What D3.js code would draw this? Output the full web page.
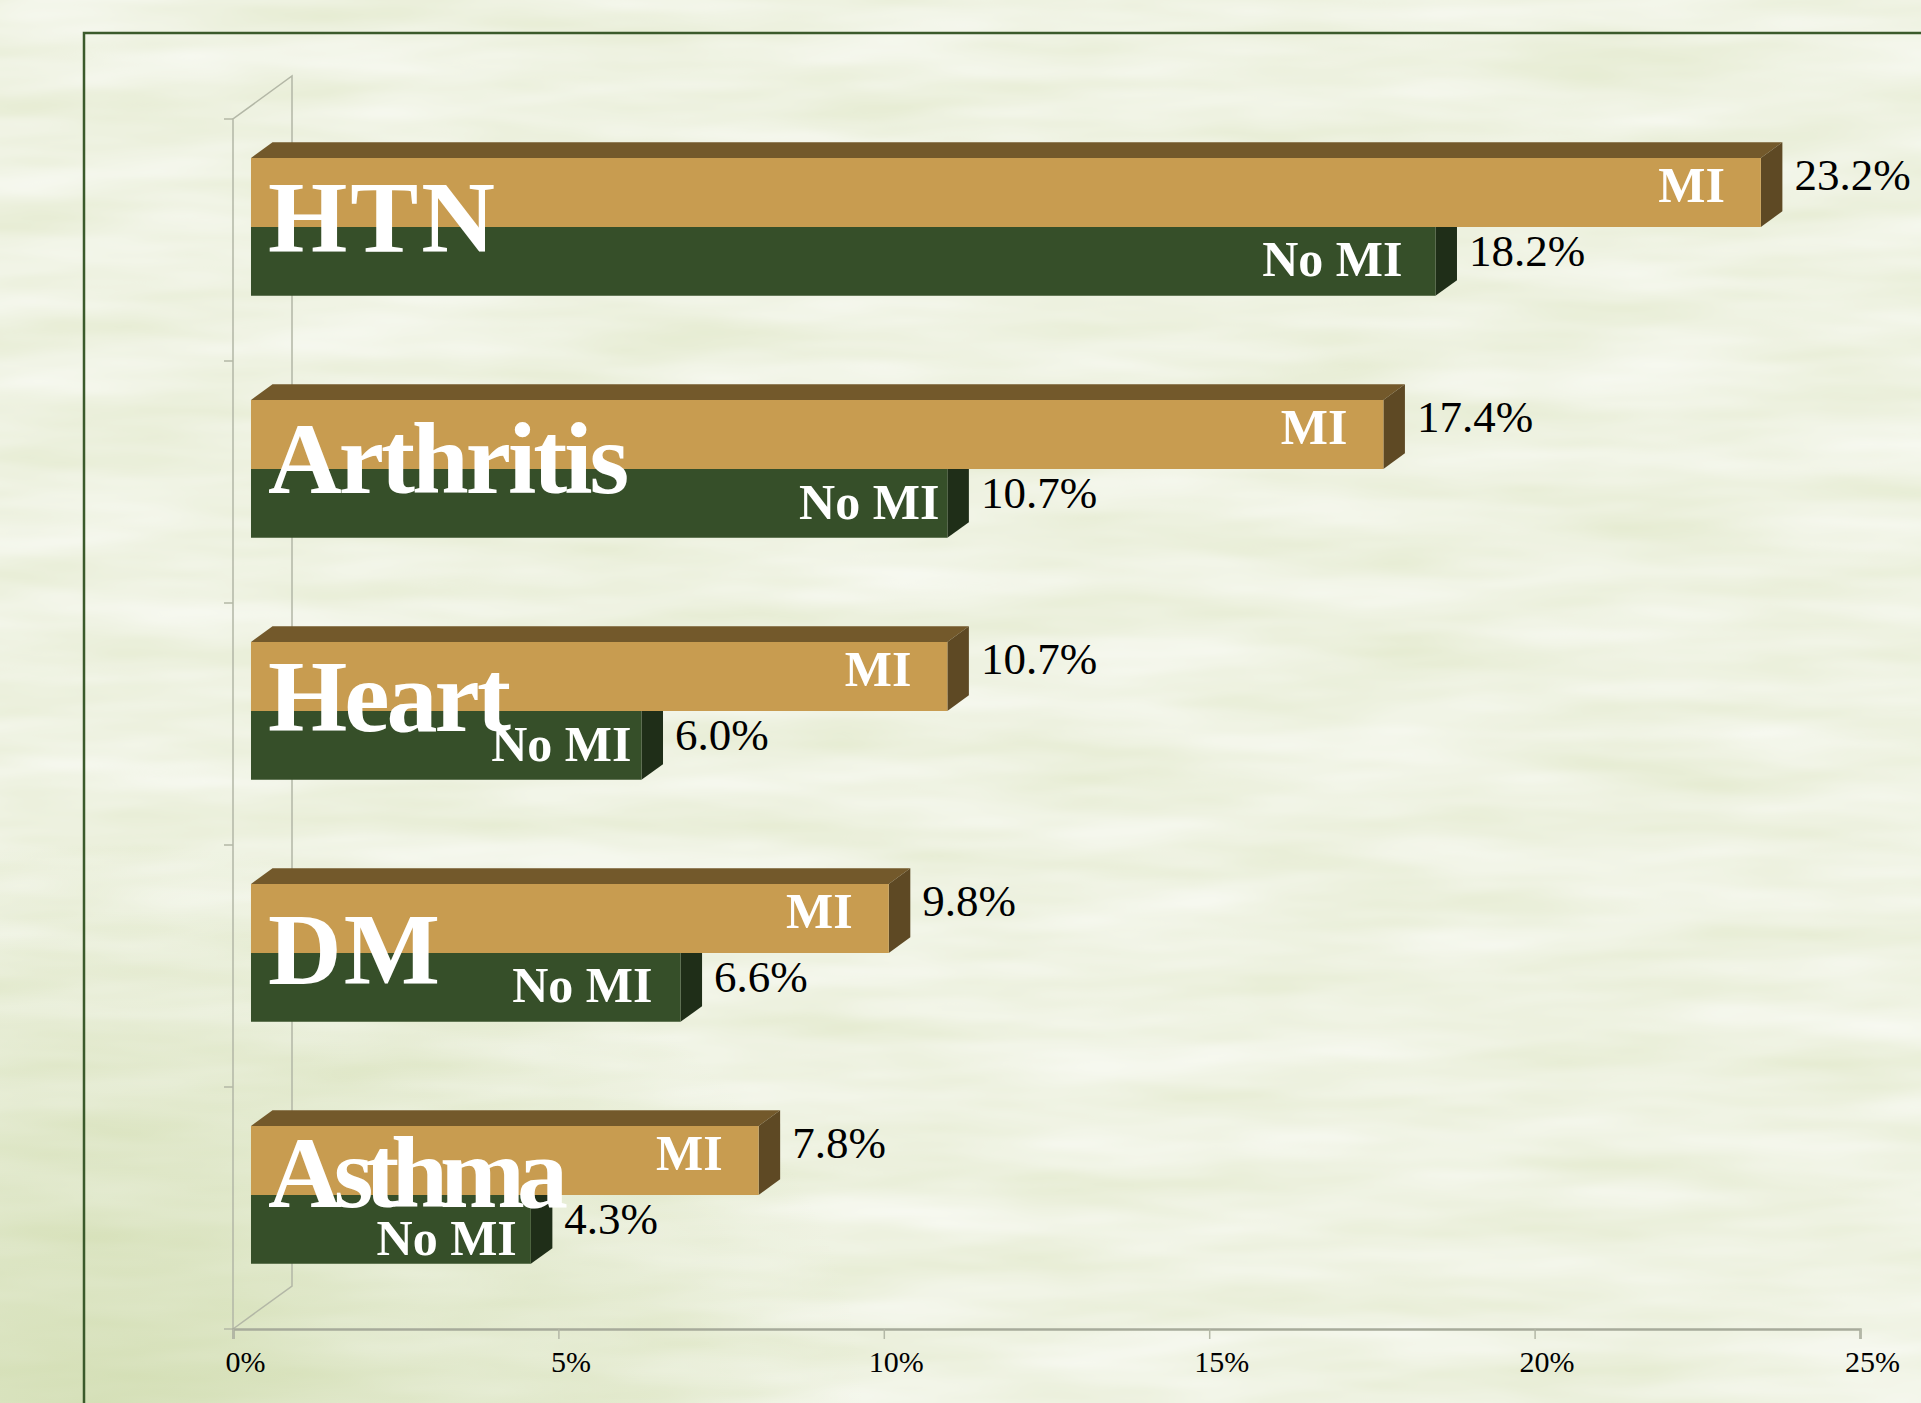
<!DOCTYPE html>
<html>
<head>
<meta charset="utf-8">
<script src="https://cdn.jsdelivr.net/npm/d3@7"></script>
<style>
  html, body { margin: 0; padding: 0; background: #dfe6c6; }
  svg { display: block; }
</style>
</head>
<body>
<div id="chart"></div>
<script>
// chart data
const categories = ['HTN', 'Arthritis', 'Heart', 'DM', 'Asthma'];
const seriesNames = ['MI', 'No MI'];
const miValues = [23.2, 17.4, 10.7, 9.8, 7.8];
const noMiValues = [18.2, 10.7, 6.0, 6.6, 4.3];
const tickValues = [0, 5, 10, 15, 20, 25];

const width = 1921;
const height = 1403;

// oblique 3d look: one unit of depth moves a point this far
const depthX = 59, depthY = -43;
const barZ0 = 0.305, barZ1 = 0.67;

// hand placed text boxes in the original slide
const nameNudge = [25, 24, 20, 31, 12];
const nameSpacing = [3, -3, -3, 2, -8];
const noMiNudge = [[33, 49], [8, 50], [10, 50], [28, 49], [14, 60]];

const colors = {
  miFront: '#c89c50', miTop: '#73592b', miSide: '#5e4924',
  noFront: '#364f29', noTop: '#26391d', noSide: '#1f2e18'
};

const svg = d3.select('#chart').append('svg')
  .attr('width', width)
  .attr('height', height);

// paper-like background
const defs = svg.append('defs');
const tex = defs.append('filter').attr('id', 'paper')
  .attr('filterUnits', 'userSpaceOnUse')
  .attr('x', 0).attr('y', 0).attr('width', width).attr('height', height);
tex.append('feTurbulence')
  .attr('type', 'fractalNoise')
  .attr('baseFrequency', '0.004 0.025')
  .attr('numOctaves', 3)
  .attr('seed', 11);
tex.append('feColorMatrix')
  .attr('type', 'matrix')
  .attr('values', [
    0.18, 0, 0, 0, 0.77,
    0.14, 0, 0, 0, 0.82,
    0.30, 0, 0, 0, 0.61,
    0, 0, 0, 0, 1
  ].join(' '));

const corner = defs.append('radialGradient').attr('id', 'corner')
  .attr('cx', 0.05).attr('cy', 1).attr('r', 0.4);
corner.append('stop').attr('offset', 0).attr('stop-color', '#b7ca86').attr('stop-opacity', 0.45);
corner.append('stop').attr('offset', 1).attr('stop-color', '#b7ca86').attr('stop-opacity', 0);

svg.append('rect').attr('width', width).attr('height', height)
  .attr('fill', '#dfe6c6');
svg.append('rect').attr('width', width).attr('height', height)
  .attr('filter', 'url(#paper)');
svg.append('rect').attr('width', width).attr('height', height)
  .attr('fill', 'url(#corner)');

// frame
svg.append('path')
  .attr('d', `M84,${height} V33 H${width}`)
  .attr('fill', 'none')
  .attr('stroke', '#3b5a2b')
  .attr('stroke-width', 2.5);

// scales
const x = d3.scaleLinear().domain([0, 25]).range([233, 1860]);
const y = d3.scaleBand().domain(categories).range([119, 1329])
  .paddingInner(0.43).paddingOuter(0.215);
const ySub = d3.scaleBand().domain(seriesNames).range([0, y.bandwidth()]);

const plotTop = 119, plotBottom = 1329;
const proj = (v, yy, z) => [x(v) + z * depthX, yy + z * depthY];

// walls
const wall = svg.append('g')
  .attr('fill', 'none')
  .attr('stroke', '#b3b7a6')
  .attr('stroke-width', 1.5);
const backTop = proj(0, plotTop, 1);
const backBottom = proj(0, plotBottom, 1);
wall.append('path')
  .attr('d', `M${x(0)},${plotBottom} V${plotTop} L${backTop[0]},${backTop[1]} V${backBottom[1]} L${x(0)},${plotBottom}`);

// category ticks on the front edge
const catTicks = categories.map((c, i) => y.step() * i + plotTop).concat([plotBottom]);
wall.selectAll('line.ctick')
  .data(catTicks)
  .enter()
  .append('line')
  .attr('class', 'ctick')
  .attr('x1', x(0) - 9).attr('x2', x(0))
  .attr('y1', d => d).attr('y2', d => d);

// value axis
const axis = d3.axisBottom(x)
  .tickValues(tickValues)
  .tickSize(10)
  .tickFormat(d => d + '%');
const axisG = svg.append('g')
  .attr('transform', `translate(0,${plotBottom})`)
  .call(axis);
axisG.select('.domain')
  .attr('stroke', '#a7ab9b')
  .attr('stroke-width', 2.5);
axisG.selectAll('.tick line')
  .attr('stroke', '#b3b7a6')
  .attr('stroke-width', 1.5);
axisG.selectAll('.tick text')
  .attr('x', 12)
  .attr('y', 43)
  .attr('dy', 0)
  .attr('fill', '#000')
  .style('font-family', '"Liberation Serif", "Times New Roman", serif')
  .style('font-size', '30px');

// bars
const rows = categories.map((c, i) => ({
  cat: c,
  index: i,
  bars: [
    { series: 'No MI', value: noMiValues[i] },
    { series: 'MI', value: miValues[i] }
  ]
}));

const poly = pts => 'M' + pts.map(p => p.join(',')).join('L') + 'Z';

const rowG = svg.selectAll('g.row')
  .data(rows)
  .enter()
  .append('g')
  .attr('class', 'row');

rowG.each(function (row) {
  const g = d3.select(this);
  row.bars.forEach(b => {
    const isMi = b.series === 'MI';
    const y0 = y(row.cat) + ySub(b.series);
    const y1 = y0 + ySub.bandwidth();
    const front = [proj(0, y0, barZ0), proj(b.value, y0, barZ0), proj(b.value, y1, barZ0), proj(0, y1, barZ0)];
    const top = [proj(0, y0, barZ0), proj(b.value, y0, barZ0), proj(b.value, y0, barZ1), proj(0, y0, barZ1)];
    const side = [proj(b.value, y0, barZ0), proj(b.value, y0, barZ1), proj(b.value, y1, barZ1), proj(b.value, y1, barZ0)];

    g.append('path').attr('d', poly(top)).attr('fill', isMi ? colors.miTop : colors.noTop);
    g.append('path').attr('d', poly(side)).attr('fill', isMi ? colors.miSide : colors.noSide);
    g.append('path').attr('d', poly(front)).attr('fill', isMi ? colors.miFront : colors.noFront);
  });
});

// labels drawn above all bars
const labelG = svg.append('g')
  .style('font-family', '"Liberation Serif", "Times New Roman", serif');

rows.forEach(row => {
  const i = row.index;
  row.bars.forEach(b => {
    const isMi = b.series === 'MI';
    const y0 = y(row.cat) + ySub(b.series);
    const [fx, fy] = proj(b.value, y0, barZ0);
    const sideEnd = proj(b.value, y0, barZ1)[0];

    // value label
    labelG.append('text')
      .attr('x', sideEnd + 12)
      .attr('y', fy + (isMi ? 32 : 39))
      .attr('fill', '#000')
      .style('font-size', '45px')
      .text(d3.format('.1f')(b.value) + '%');

    // series label inside the bar
    const pad = isMi ? 36 : noMiNudge[i][0];
    const base = isMi ? 44 : noMiNudge[i][1];
    labelG.append('text')
      .attr('x', fx - pad)
      .attr('y', fy + base)
      .attr('text-anchor', 'end')
      .attr('fill', '#fff')
      .style('font-size', '50px')
      .style('font-weight', 'bold')
      .text(b.series);
  });

  // big category name
  const boundary = proj(0, y(row.cat) + ySub('No MI'), barZ0)[1];
  labelG.append('text')
    .attr('x', 268)
    .attr('y', boundary + nameNudge[i])
    .attr('fill', '#fff')
    .style('font-size', '102px')
    .style('font-weight', 'bold')
    .style('letter-spacing', nameSpacing[i] + 'px')
    .text(row.cat);
});
</script>
</body>
</html>
